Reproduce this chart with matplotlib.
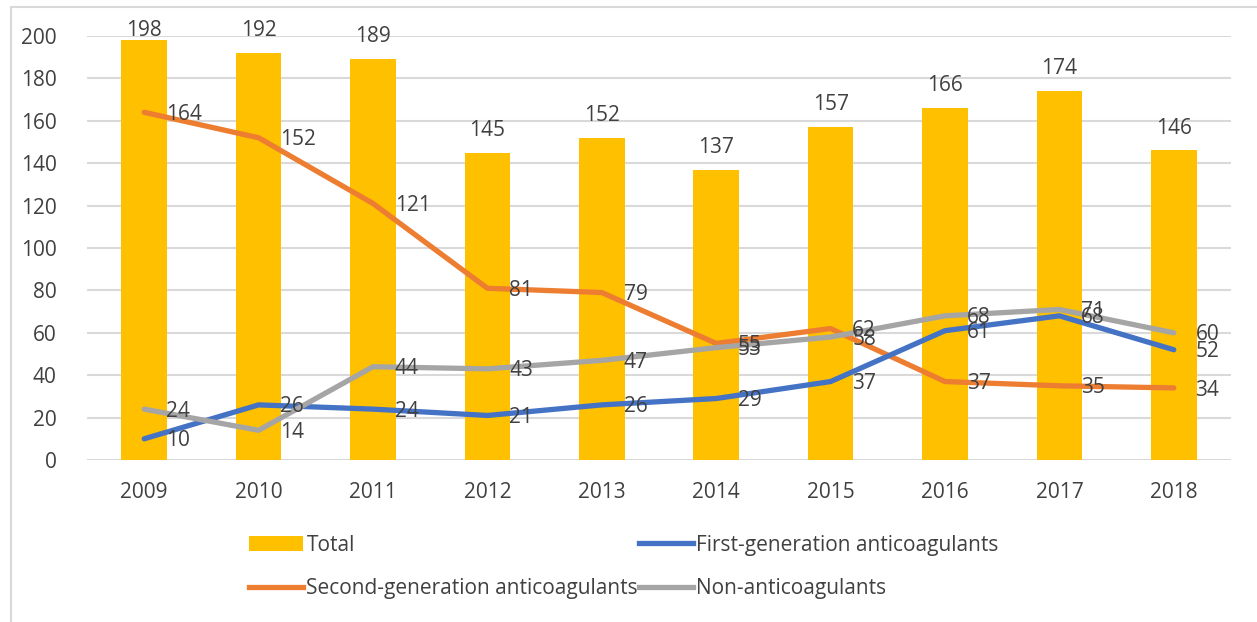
import matplotlib.pyplot as plt
from matplotlib.patches import Rectangle, Patch
from matplotlib.lines import Line2D
import numpy as np

# Données du graphique
years = ['2009', '2010', '2011', '2012', '2013', '2014', '2015', '2016', '2017', '2018']
total = [198, 192, 189, 145, 152, 137, 157, 166, 174, 146]
first_gen = [10, 26, 24, 21, 26, 29, 37, 61, 68, 52]
second_gen = [164, 152, 121, 81, 79, 55, 62, 37, 35, 34]
non_anti = [24, 14, 44, 43, 47, 53, 58, 68, 71, 60]

plt.rcParams['font.family'] = ['Open Sans', 'DejaVu Sans']
txt = '#404040'
fs = 15

fig = plt.figure(figsize=(12.57, 6.22), dpi=100)
ax = fig.add_axes([87 / 1257, 1 - 460 / 622, 1144 / 1257, 424 / 622])

# cadre gris autour du graphique
fig.patches.append(Rectangle((11 / 1257, -0.1), 1.2, 1 - 7 / 622 + 0.1,
                             transform=fig.transFigure, fill=False,
                             edgecolor='#D9D9D9', lw=1.5))

x = np.arange(len(years))
ax.bar(x, total, width=0.4, color='#FFC000', zorder=2)
for xi, v in zip(x, total):
    # étiquettes au-dessus des barres, bloquées en haut comme dans Excel
    ax.text(xi, min(v + 5.6, 197.6), str(v), ha='center', va='bottom',
            fontsize=fs, color=txt)

series = [
    (second_gen, '#ED7D31'),
    (first_gen, '#4472C4'),
    (non_anti, '#A5A5A5'),
]
for vals, col in series:
    ax.plot(x, vals, color=col, lw=3.8, solid_capstyle='round', zorder=3)
    for xi, v in zip(x, vals):
        ax.text(xi + 0.19, v - 1, str(v), ha='left', va='center', fontsize=fs,
                color=txt, zorder=4)

ax.set_xlim(-0.5, len(years) - 0.5)
ax.set_ylim(0, 200)
ax.set_yticks(range(0, 201, 20))
ax.set_xticks(x)
ax.set_xticklabels(years)
ax.tick_params(length=0, labelsize=fs, colors=txt)
ax.tick_params(axis='x', pad=16)
ax.tick_params(axis='y', pad=22)
ax.grid(axis='y', color='#D9D9D9', lw=1.5, zorder=0)
ax.set_axisbelow(True)
for s in ax.spines.values():
    s.set_visible(False)

handles = [
    Patch(facecolor='#FFC000'),
    Line2D([], [], color='#ED7D31', lw=3.8),
    Line2D([], [], color='#4472C4', lw=3.8),
    Line2D([], [], color='#A5A5A5', lw=3.8),
]
labels = ['Total', 'Second-generation anticoagulants',
          'First-generation anticoagulants', 'Non-anticoagulants']
fig.legend(handles, labels, ncol=2, loc='center', bbox_to_anchor=(624 / 1257, 1 - 567 / 622),
           frameon=False, fontsize=fs, labelcolor=txt, handlelength=2.6,
           handletextpad=0.15, columnspacing=0.05, labelspacing=1.1)

fig.savefig('out.png', dpi=100)
